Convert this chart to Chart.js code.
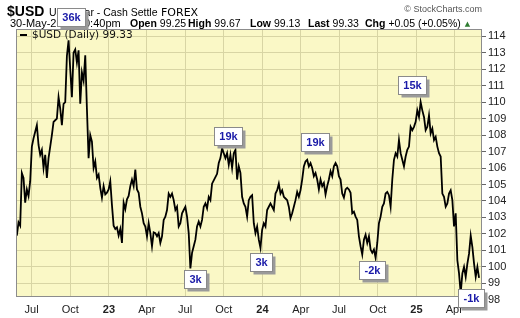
<!DOCTYPE html>
<html><head><meta charset="utf-8">
<script src="https://cdn.jsdelivr.net/npm/chart.js@4.4.1/dist/chart.umd.min.js"></script>
<style>html,body{margin:0;padding:0;background:#fff}canvas{display:block}</style>
</head><body>
<canvas id="c" width="520" height="318"></canvas>
<script>
// ---- data ----
const tickDates = ['2022-07-01','2022-10-01','2023-01-01','2023-04-01','2023-07-01','2023-10-01',
                   '2024-01-01','2024-04-01','2024-07-01','2024-10-01','2025-01-01','2025-04-01'];
const tickLabels = ['Jul','Oct','23','Apr','Jul','Oct','24','Apr','Jul','Oct','25','Apr'];
const yTickValues = [98,99,100,101,102,103,104,105,106,107,108,109,110,111,112,113,114];
const seriesStart = '2022-05-27';
const seriesEnd = '2025-05-30';
const usdClose = [
101.9,102.7,102.5,105.7,105.4,103.9,104.7,104.3,105.2,107.3,107.8,108.2,108.6,107.4,106.8,107.1,
106.0,106.8,105.4,106.6,107.3,108.0,108.8,108.9,109.0,110.3,109.6,108.6,109.9,110.0,112.8,113.75,
112.0,110.3,113.0,113.2,112.4,113.15,109.9,111.8,111.3,112.85,109.6,106.6,108.0,107.6,106.0,106.4,
105.4,105.6,104.8,104.2,104.9,104.4,104.5,104.7,105.2,103.75,102.5,102.3,102.4,101.9,102.3,101.45,
103.9,103.5,104.1,104.3,104.9,105.3,104.9,105.9,104.7,104.5,103.65,103.25,102.65,102.45,101.85,102.65,
102.05,101.25,102.1,102.05,101.85,102.05,101.45,101.85,102.85,103.05,103.45,104.45,104.25,104.45,104.05,103.45,
103.65,102.45,102.65,103.25,103.45,103.65,103.05,102.05,99.9,100.85,101.25,101.65,102.45,102.75,102.45,102.85,
103.65,103.85,103.55,104.25,104.05,105.05,105.25,105.45,105.65,106.3,106.6,107.2,106.9,106.6,106.9,106.2,
106.8,106.0,106.9,107.1,105.3,106.1,105.7,104.25,103.85,103.65,103.05,104.05,104.25,104.35,102.65,102.05,
102.45,101.65,101.15,102.25,102.65,102.45,103.45,103.65,103.85,103.65,103.45,104.45,104.65,105.05,104.45,104.65,
104.25,104.15,104.05,103.65,102.95,103.25,103.65,104.05,104.55,104.25,104.65,105.3,106.1,106.4,106.5,106.1,
106.3,106.0,105.5,105.7,105.3,104.7,105.3,104.9,105.1,104.4,104.9,105.3,105.8,105.5,106.1,106.3,
106.1,105.5,105.3,
104.45,104.2,104.7,104.8,104.7,104.5,103.25,103.35,103.05,102.85,101.85,101.25,100.75,101.65,101.95,101.45,
101.85,101.05,100.85,101.05,100.55,101.45,102.65,103.05,103.65,103.85,104.45,104.55,104.35,103.65,105.3,106.5,
106.9,106.7,107.7,106.9,106.5,106.1,106.7,107.1,107.3,108.5,108.3,108.5,108.8,109.5,109.1,110.0,
109.5,109.1,108.3,108.5,109.2,108.1,108.4,107.7,107.9,107.3,106.9,106.7,104.45,104.25,103.65,103.85,
104.45,104.65,104.05,102.45,103.25,100.4,99.6,98.4,99.6,100.0,99.4,100.2,100.8,101.9,101.2,100.2,
99.4,100.0,99.33
];
const annotationLabels = ['36k','19k','3k','3k','19k','-2k','15k','-1k'];
const annotationDates  = ['2022-10-02','2023-10-10','2023-07-24','2023-12-28','2024-05-05','2024-09-17','2024-12-21','2025-05-11'];
const annotationValues = [115.17,107.95,99.26,100.27,107.58,99.81,111.04,98.11];
const quoteLabels = ['Open','High','Low','Last','Chg'];
const quoteValues = ['99.25','99.67','99.13','99.33','+0.05 (+0.05%)'];

// ---- helpers ----
const ORIGIN = Date.UTC(2022,6,1);
const dayOf = s => { const p = s.split('-').map(Number); return (Date.UTC(p[0],p[1]-1,p[2]) - ORIGIN)/864e5; };
const d0 = dayOf(seriesStart), d1 = dayOf(seriesEnd);
const points = usdClose.map((v,i) => ({x: d0 + i*(d1-d0)/(usdClose.length-1), y: v}));
const tickDays = tickDates.map(dayOf);

const Y_MIN = 98.23, Y_MAX = 114.44;
const X_MIN = dayOf('2022-05-25'), X_MAX = dayOf('2025-06-06');
const GRID = '#d8d5a4';
const SANS = '"Liberation Sans", Arial, sans-serif';
const QUOTE_X = [130, 188, 250, 308, 365];

const framePlugin = {
  id: 'frame',
  beforeDraw(chart) {
    const {ctx, chartArea: a} = chart;
    ctx.save();
    ctx.fillStyle = '#ffffff';
    ctx.fillRect(0,0,chart.width,chart.height);
    ctx.fillStyle = '#faf8c6';
    ctx.fillRect(a.left, a.top, a.right-a.left, a.bottom-a.top);
    ctx.restore();
  },
  afterDraw(chart) {
    const {ctx, chartArea: a, scales} = chart;
    ctx.save();
    // frame
    ctx.strokeStyle = '#8c8c8c';
    ctx.lineWidth = 1;
    ctx.strokeRect(Math.round(a.left)+0.5, Math.round(a.top)+0.5, Math.round(a.right-a.left)-1, Math.round(a.bottom-a.top));
    // legend
    ctx.strokeStyle = '#000'; ctx.lineWidth = 2;
    ctx.beginPath(); ctx.moveTo(a.left+4, a.top+6); ctx.lineTo(a.left+11, a.top+6); ctx.stroke();
    ctx.fillStyle = '#111';
    ctx.font = '10.5px "DejaVu Sans", Verdana, sans-serif';
    ctx.textBaseline = 'middle';
    ctx.fillText('$USD (Daily) ' + quoteValues[3], a.left+16, a.top+6.5);
    // header line 1
    ctx.textBaseline = 'alphabetic';
    ctx.fillStyle = '#000';
    ctx.font = 'bold 14px ' + SANS;
    ctx.fillText('$USD', 7, 16);
    ctx.font = '10.5px ' + SANS;
    ctx.fillText('US Dollar - Cash Settle', 49, 16);
    ctx.font = '11px "DejaVu Sans", Verdana, sans-serif';
    ctx.fillText('FOREX', 161, 16);
    ctx.fillStyle = '#555';
    ctx.font = '9px ' + SANS;
    ctx.textAlign = 'right';
    ctx.fillText('\u00A9 StockCharts.com', 482, 12);
    ctx.textAlign = 'left';
    // header line 2
    ctx.fillStyle = '#000';
    ctx.font = '11px ' + SANS;
    ctx.fillText('30-May-2025 10:40pm', 10, 27);
    let endX = 0;
    quoteLabels.forEach((lab, i) => {
      ctx.font = 'bold 10.5px ' + SANS;
      ctx.fillText(lab, QUOTE_X[i], 27);
      const w = ctx.measureText(lab).width;
      ctx.font = '10.5px ' + SANS;
      ctx.fillText(quoteValues[i], QUOTE_X[i] + w + 3, 27);
      endX = QUOTE_X[i] + w + 3 + ctx.measureText(quoteValues[i]).width;
    });
    ctx.fillStyle = '#2f7d32';
    ctx.font = '7px "DejaVu Sans", sans-serif';
    ctx.fillText('\u25B2', endX + 4, 26);
    // annotation boxes
    ctx.font = 'bold 11px ' + SANS;
    annotationLabels.forEach((t,i) => {
      const cx = scales.x.getPixelForValue(dayOf(annotationDates[i]));
      const cy = scales.y.getPixelForValue(annotationValues[i]);
      const w = Math.round(ctx.measureText(t).width + 10), h = 18;
      const x = Math.round(cx - w/2) + 0.5, y = Math.round(cy - h/2) + 0.5;
      ctx.fillStyle = '#9a9a9a';
      ctx.fillRect(x+3, y+3, w, h);
      ctx.fillStyle = '#ffffff';
      ctx.fillRect(x, y, w, h);
      ctx.strokeStyle = '#8a8a8a'; ctx.lineWidth = 1;
      ctx.strokeRect(x, y, w, h);
      ctx.fillStyle = '#1a1aa8';
      ctx.textAlign = 'center'; ctx.textBaseline = 'middle';
      ctx.fillText(t, x + w/2, y + h/2 + 0.5);
    });
    ctx.restore();
  }
};

new Chart(document.getElementById('c'), {
  type: 'line',
  data: { datasets: [{
    label: '$USD (Daily)',
    data: points,
    borderColor: '#000',
    borderWidth: 1.8,
    pointRadius: 0,
    tension: 0,
    fill: false
  }]},
  options: {
    responsive: false,
    animation: false,
    devicePixelRatio: 1,
    layout: { padding: {left: 16, top: 29, right: 0, bottom: 0} },
    plugins: { legend: {display: false}, tooltip: {enabled: false} },
    scales: {
      x: {
        type: 'linear', min: X_MIN, max: X_MAX,
        afterBuildTicks: s => { s.ticks = tickDays.map(v => ({value: v})); },
        afterFit: s => { s.height = 22; },
        border: {display: false},
        grid: { color: GRID, drawTicks: false },
        ticks: {
          autoSkip: false, maxRotation: 0, minRotation: 0, padding: 7,
          color: '#222',
          font: c => ({family: SANS, size: 11, weight: /^\d+$/.test(tickLabels[c.index]) ? 'bold' : 'normal'}),
          callback: (v, i) => tickLabels[i]
        }
      },
      y: {
        type: 'linear', position: 'right', min: Y_MIN, max: Y_MAX,
        afterBuildTicks: s => { s.ticks = yTickValues.map(v => ({value: v})); },
        afterFit: s => { s.width = 38; },
        border: {display: false},
        grid: {
          color: c => (c.tick && c.tick.value < Y_MIN) ? 'rgba(0,0,0,0)' : GRID,
          tickColor: '#666', tickLength: 4
        },
        ticks: {
          autoSkip: false, padding: 2, color: '#222',
          font: {family: SANS, size: 11},
          callback: v => String(v)
        }
      }
    }
  },
  plugins: [framePlugin]
});
</script>
</body></html>
